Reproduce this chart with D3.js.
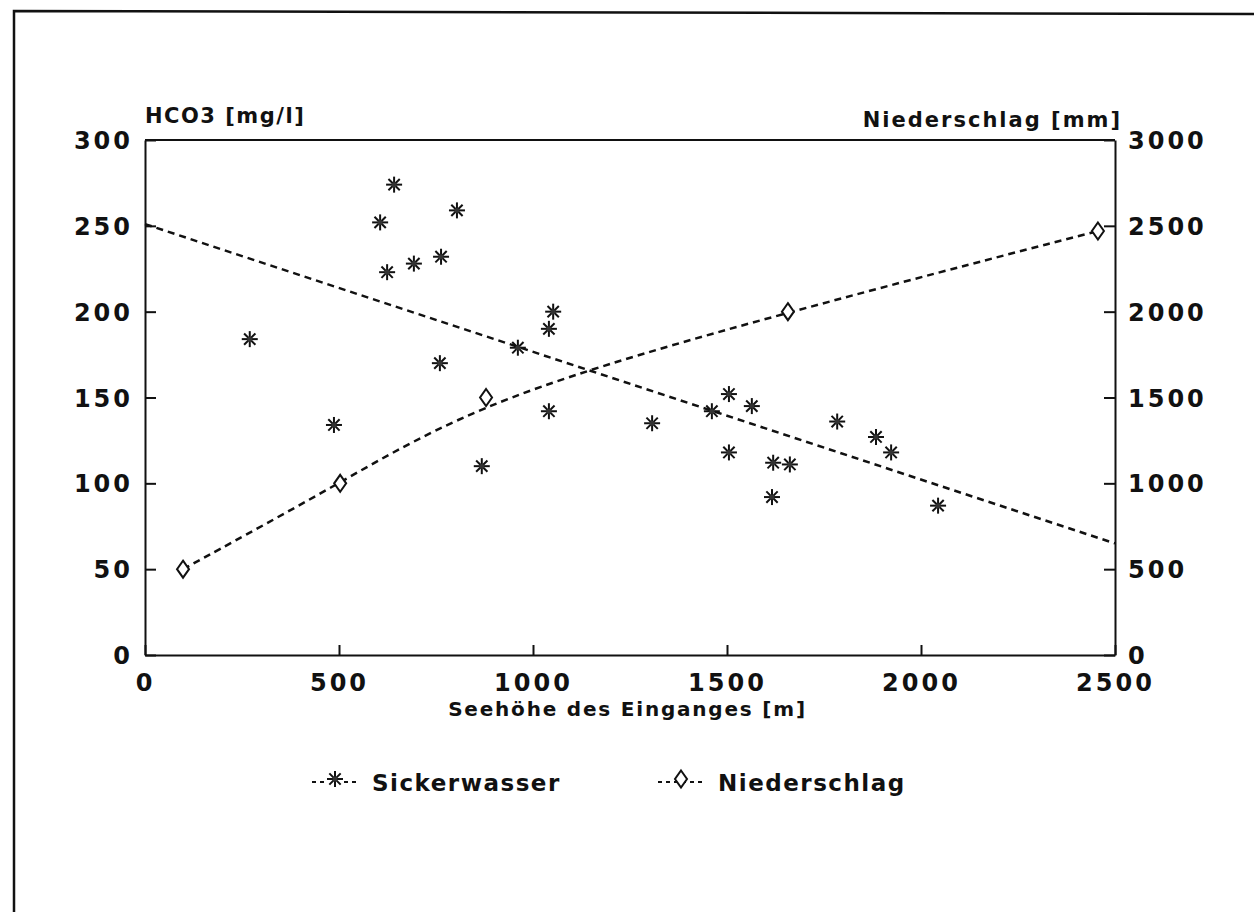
<!DOCTYPE html>
<html>
<head>
<meta charset="utf-8">
<script src="https://cdn.jsdelivr.net/npm/d3@7"></script>
<style>
  body { margin: 0; background: #fff; }
  svg text { font-family: "DejaVu Sans", sans-serif; font-weight: bold; fill: #111; }
</style>
</head>
<body>
<svg id="chart" width="1254" height="912"></svg>
<script>
"use strict";

// Sickerwasser: Seehöhe [m] / HCO3 [mg/l]
var sickerHoehe = [270, 487, 606, 624, 642, 693, 763, 804, 760, 868, 961, 1041, 1041, 1052, 1307,
    1461, 1505, 1505, 1564, 1619, 1616, 1662, 1784, 1884, 1923, 2044];
var sickerHCO3 = [184, 134, 252, 223, 274, 228, 232, 259, 170, 110, 179, 142, 190, 200, 135,
    142, 152, 118, 145, 112, 92, 111, 136, 127, 118, 87];

// Trendlinie Sickerwasser (Anfang/Ende)
var trendHoehe = [0, 2500];
var trendHCO3 = [251, 65];

// Niederschlag: Seehöhe [m] / Niederschlag [mm]
var niederHoehe = [98, 503, 879, 1657, 2456];
var niederMenge = [500, 1000, 1500, 2000, 2470];

var xTicks = [0, 500, 1000, 1500, 2000, 2500];
var yLinksTicks = [0, 50, 100, 150, 200, 250, 300];
var yRechtsTicks = [0, 500, 1000, 1500, 2000, 2500, 3000];

var svg = d3.select("#chart");
var links = 145, rechts = 1115, oben = 140, unten = 655;

var x = d3.scaleLinear().domain([0, 2500]).range([links, rechts]);
var yL = d3.scaleLinear().domain([0, 300]).range([unten, oben]);
var yR = d3.scaleLinear().domain([0, 3000]).range([unten, oben]);
var fmt = d3.format("d");

// Rahmen um die Seite
svg.append("path")
    .attr("d", "M14,912 L14,11 L1254,14")
    .attr("fill", "none").attr("stroke", "#111").attr("stroke-width", 2.5);

// Achsen
function stilAchse(g) {
    g.select(".domain").attr("stroke", "#111").attr("stroke-width", 2);
    g.selectAll(".tick line").attr("stroke", "#111").attr("stroke-width", 2);
    g.selectAll(".tick text")
        .style("font-size", "24px")
        .style("letter-spacing", "3px")
        .attr("fill", "#111");
}

svg.append("g")
    .attr("transform", "translate(" + links + ",0)")
    .call(d3.axisLeft(yL).tickValues(yLinksTicks).tickFormat(fmt).tickSizeInner(-11).tickSizeOuter(0).tickPadding(12))
    .call(stilAchse)
    .call(g => g.selectAll(".tick text").attr("dy", "0.36em"));

svg.append("g")
    .attr("transform", "translate(" + rechts + ",0)")
    .call(d3.axisRight(yR).tickValues(yRechtsTicks).tickFormat(fmt).tickSizeInner(-11).tickSizeOuter(0).tickPadding(13))
    .call(stilAchse)
    .call(g => g.selectAll(".tick text").attr("dy", "0.36em"));

svg.append("g")
    .attr("transform", "translate(0," + unten + ")")
    .call(d3.axisBottom(x).tickValues(xTicks).tickFormat(fmt).tickSizeInner(-10).tickSizeOuter(0).tickPadding(19))
    .call(stilAchse)
    .call(g => g.selectAll(".tick text").attr("dy", "0.71em"));

// obere Begrenzung
svg.append("line")
    .attr("x1", links).attr("x2", rechts).attr("y1", oben).attr("y2", oben)
    .attr("stroke", "#111").attr("stroke-width", 2);

// Achsentitel
svg.append("text").attr("x", links).attr("y", 123)
    .style("font-size", "21px").style("letter-spacing", "1.5px")
    .text("HCO3 [mg/l]");
svg.append("text").attr("x", 1122).attr("y", 127).attr("text-anchor", "end")
    .style("font-size", "21px").style("letter-spacing", "2px")
    .text("Niederschlag [mm]");
svg.append("text").attr("x", (445 + 810) / 2).attr("y", 716).attr("text-anchor", "middle")
    .style("font-size", "20px").style("letter-spacing", "1.8px")
    .text("Seehöhe des Einganges [m]");

// Trendlinie Sickerwasser
svg.append("path")
    .datum(d3.zip(trendHoehe, trendHCO3))
    .attr("d", d3.line().x(d => x(d[0])).y(d => yL(d[1])))
    .attr("fill", "none").attr("stroke", "#111").attr("stroke-width", 2.5)
    .attr("stroke-dasharray", "7,5");

// Niederschlagslinie
svg.append("path")
    .datum(d3.zip(niederHoehe, niederMenge))
    .attr("d", d3.line().curve(d3.curveBasis).x(d => x(d[0])).y(d => yR(d[1])))
    .attr("fill", "none").attr("stroke", "#111").attr("stroke-width", 2.5)
    .attr("stroke-dasharray", "7,5");

// Markierungen
function stern(g) {
    [0, 45, 90, 135].forEach(function (w) {
        var r = 8, a = w * Math.PI / 180;
        g.append("line")
            .attr("x1", -r * Math.cos(a)).attr("y1", -r * Math.sin(a))
            .attr("x2", r * Math.cos(a)).attr("y2", r * Math.sin(a))
            .attr("stroke", "#111").attr("stroke-width", 2);
    });
    g.append("circle").attr("r", 2.5).attr("fill", "#333");
}
var raute = "M0,-8.5L6,0L0,8.5L-6,0Z";

d3.zip(sickerHoehe, sickerHCO3).forEach(function (d) {
    var g = svg.append("g").attr("transform", "translate(" + x(d[0]) + "," + yL(d[1]) + ")");
    stern(g);
});

svg.selectAll("path.raute")
    .data(d3.zip(niederHoehe, niederMenge))
    .enter().append("path")
    .attr("class", "raute")
    .attr("d", raute)
    .attr("transform", d => "translate(" + x(d[0]) + "," + yR(d[1]) + ")")
    .attr("fill", "#fff").attr("stroke", "#111").attr("stroke-width", 2);

// Legende
var legende = [
    { name: "Sickerwasser", x: 312, typ: "stern" },
    { name: "Niederschlag", x: 658, typ: "raute" }
];
legende.forEach(function (l) {
    var yl = 782;
    svg.append("line")
        .attr("x1", l.x).attr("x2", l.x + 46).attr("y1", yl).attr("y2", yl)
        .attr("stroke", "#111").attr("stroke-width", 2).attr("stroke-dasharray", "4,4");
    var g = svg.append("g").attr("transform", "translate(" + (l.x + 23) + "," + (yl - 3) + ")");
    if (l.typ === "stern") {
        g.append("rect").attr("x", -9).attr("y", -9).attr("width", 18).attr("height", 18).attr("fill", "#fff");
        stern(g);
    } else {
        g.append("path").attr("d", raute).attr("fill", "#fff").attr("stroke", "#111").attr("stroke-width", 2);
    }
    svg.append("text").attr("x", l.x + 60).attr("y", yl + 9)
        .style("font-size", "23px").style("letter-spacing", "1.5px")
        .text(l.name);
});
</script>
</body>
</html>
